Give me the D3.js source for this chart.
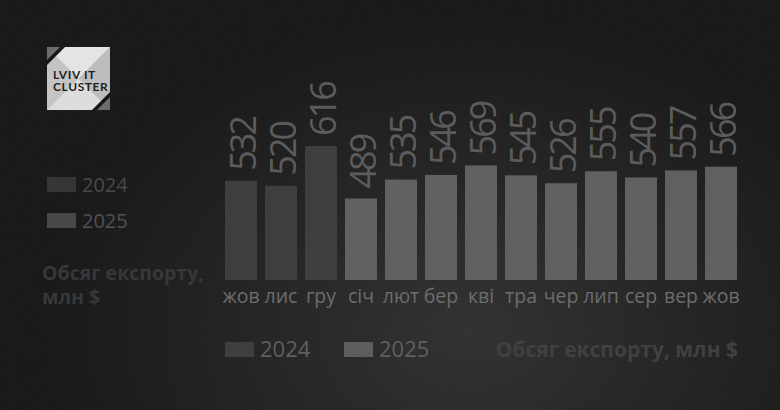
<!DOCTYPE html>
<html><head><meta charset="utf-8">
<script src="https://cdn.jsdelivr.net/npm/d3@7"></script>
<style>html,body{margin:0;padding:0;background:#141414;}svg{display:block;}</style>
</head><body>
<svg id="c" width="780" height="410"></svg>
<script>
const months = ["жов","лис","гру","січ","лют","бер","кві","тра","чер","лип","сер","вер","жов"];
const years = ["2024","2024","2024","2025","2025","2025","2025","2025","2025","2025","2025","2025","2025"];
const values = [532,520,616,489,535,546,569,545,526,555,540,557,566];
const legendYears = ["2024","2025"];
const axisTitle = "Обсяг експорту, млн $";

const svg = d3.select("#c");
const defs = svg.append("defs");
const rg = defs.append("radialGradient").attr("id","bg").attr("gradientUnits","userSpaceOnUse")
  .attr("cx",470).attr("cy",330).attr("r",420).attr("gradientTransform","translate(470,330) scale(1,0.75) translate(-470,-330)");
rg.append("stop").attr("offset","0").attr("stop-color","#2e2e2e");
rg.append("stop").attr("offset","0.45").attr("stop-color","#222");
rg.append("stop").attr("offset","1").attr("stop-color","#141414");
const f = defs.append("filter").attr("id","grain").attr("x",0).attr("y",0).attr("width","100%").attr("height","100%");
f.append("feTurbulence").attr("type","fractalNoise").attr("baseFrequency",0.9).attr("numOctaves",2).attr("seed",3).attr("result","n");
f.append("feColorMatrix").attr("in","n").attr("type","matrix")
  .attr("values","0 0 0 0 0.5  0 0 0 0 0.5  0 0 0 0 0.5  0 0 0 0.07 0");
svg.append("rect").attr("width",780).attr("height",410).attr("fill","url(#bg)");

// Logo
const lg = svg.append("g").attr("transform","translate(47,47)");
const s = 63;
lg.append("rect").attr("width",s).attr("height",s).attr("fill","#cfcfcf");
lg.append("path").attr("d",`M0,0L${s},0L${s/2},${s/2}Z`).attr("fill","#e6e6e6");
lg.append("path").attr("d",`M0,${s}L${s},${s}L${s/2},${s/2}Z`).attr("fill","#dedede");
lg.append("path").attr("d",`M${s},0L${s},${s}L${s/2},${s/2}Z`).attr("fill","#bdbdbd");
lg.append("path").attr("d",`M0,0L0,${s}L${s/2},${s/2}Z`).attr("fill","#c4c4c4");
lg.append("path").attr("d",`M0,0L18,0L0,18Z`).attr("fill","#111");
lg.append("path").attr("d",`M0,0L13,0L0,13Z`).attr("fill","#6a6a6a");
lg.append("path").attr("d",`M${s},${s}L${s-18},${s}L${s},${s-18}Z`).attr("fill","#111");
lg.append("path").attr("d",`M${s},${s}L${s-13},${s}L${s},${s-13}Z`).attr("fill","#6a6a6a");
const lt = lg.append("text").attr("font-family","Lato").attr("font-weight",700).attr("font-size",12)
  .attr("fill","#1a1a1a").attr("letter-spacing",0.6);
lt.append("tspan").attr("x",6).attr("y",32).text("LVIV IT");
lt.append("tspan").attr("x",6).attr("y",44).text("CLUSTER");

// Chart
const idx = d3.range(values.length);
const x = d3.scaleBand().domain(idx).range([225,737]).paddingInner(0.2).paddingOuter(0);
const y = d3.scaleLinear().domain([292,616]).range([280,146]);
const color = d3.scaleOrdinal().domain(legendYears).range(["#3a3a3a","#5d5d5d"]);

svg.append("g").selectAll("rect").data(idx).join("rect")
  .attr("x",i=>x(i)).attr("width",x.bandwidth())
  .attr("y",i=>y(values[i])).attr("height",i=>y.range()[0]-y(values[i]))
  .attr("fill",i=>color(years[i]));

svg.append("g").selectAll("text").data(idx).join("text")
  .attr("transform",i=>`translate(${x(i)+x.bandwidth()/2+1},${y(values[i])-10}) rotate(-90)`)
  .attr("dominant-baseline","central")
  .attr("font-family","Open Sans").attr("font-size",36).attr("letter-spacing",-3)
  .attr("fill","#585858").text(i=>values[i]);

const xAxis = d3.axisBottom(x).tickSize(0).tickPadding(0).tickFormat(i=>months[i]);
const ax = svg.append("g").attr("transform","translate(0,287)").call(xAxis);
ax.select(".domain").remove();
ax.selectAll("text").attr("font-family","Open Sans").attr("font-size",19.5).attr("fill","#6a6a6a").attr("dy","0.8em");

// Left legend
const ll = svg.append("g");
legendYears.forEach((yr,k)=>{
  ll.append("rect").attr("x",47).attr("y",177+k*36).attr("width",29).attr("height",15).attr("fill",k?"#434343":"#313131");
  ll.append("text").attr("x",82).attr("y",192+k*36).text(yr)
    .attr("font-family","Open Sans").attr("font-size",20).attr("fill",k?"#4d4d4d":"#454545");
});
const parts = axisTitle.split(" млн");
const tt = ll.append("text").attr("font-family","Open Sans").attr("font-weight",700).attr("font-size",19.5).attr("fill","#333");
tt.append("tspan").attr("x",42).attr("y",280).text(parts[0]);
tt.append("tspan").attr("x",42).attr("y",304).text("млн" + parts[1]);

// Bottom legend
const bl = svg.append("g");
const bx = [225,344];
legendYears.forEach((yr,k)=>{
  bl.append("rect").attr("x",bx[k]).attr("y",342).attr("width",29).attr("height",15).attr("fill",k?"#5a5a5a":"#3a3a3a");
  bl.append("text").attr("x",bx[k]+35).attr("y",357).text(yr)
    .attr("font-family","Open Sans").attr("font-size",22).attr("fill","#5c5c5c");
});
bl.append("text").attr("x",738).attr("y",357).attr("text-anchor","end").text(axisTitle)
  .attr("font-family","Open Sans").attr("font-weight",700).attr("font-size",21).attr("fill","#3c3c3c");

svg.append("rect").attr("width",780).attr("height",410).attr("filter","url(#grain)").attr("fill","#fff").style("pointer-events","none");
</script>
</body></html>
